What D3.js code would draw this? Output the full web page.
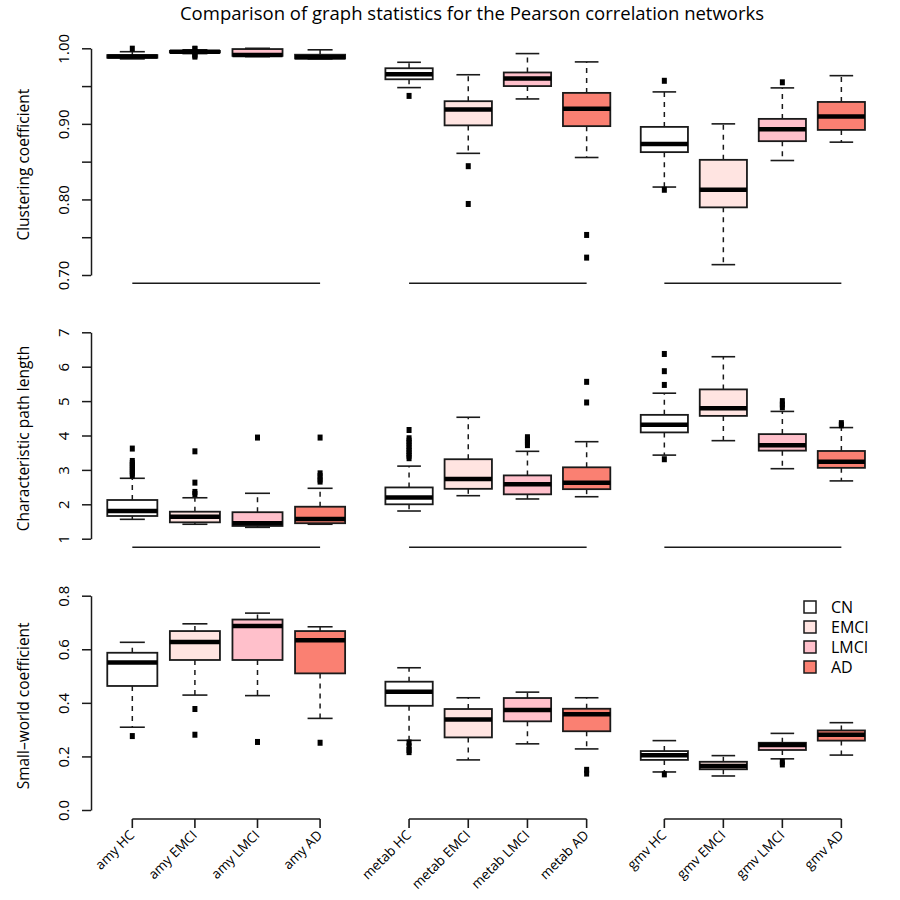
<!DOCTYPE html>
<html>
<head>
<meta charset="utf-8">
<script src="https://cdn.jsdelivr.net/npm/d3@7"></script>
<style>
body { margin: 0; background: #fff; }
text { font-family: "Open Sans", sans-serif; fill: #000; }
</style>
</head>
<body>
<svg id="chart" width="900" height="900"></svg>
<script>
var groups = ["amy", "metab", "gmv"]
var classes = ["HC", "EMCI", "LMCI", "AD"]
var legendNames = ["CN", "EMCI", "LMCI", "AD"]
var fills = ["#ffffff", "#ffe4e1", "#ffc0cb", "#fa8072"]

// each box: [lower whisker, q1, median, q3, upper whisker]
var clustering = [
  [0.986, 0.9875, 0.989, 0.991, 0.9955], [0.993, 0.9945, 0.9955, 0.9965, 0.998],
  [0.989, 0.990, 0.991, 0.999, 1.000], [0.986, 0.9865, 0.988, 0.9915, 0.998],
  [0.948, 0.959, 0.9657, 0.9736, 0.9815], [0.861, 0.898, 0.919, 0.930, 0.965],
  [0.933, 0.950, 0.960, 0.968, 0.993], [0.8555, 0.897, 0.920, 0.941, 0.982],
  [0.8164, 0.8626, 0.8732, 0.896, 0.9423], [0.7137, 0.7895, 0.8128, 0.8524, 0.900],
  [0.8515, 0.8771, 0.893, 0.9066, 0.9476], [0.8758, 0.892, 0.9097, 0.929, 0.9638]
]
var clusteringOut = [
  [0.9995], [0.9995, 0.999, 0.992, 0.9905, 0.989], [], [],
  [0.937], [0.844, 0.794], [], [0.753, 0.723],
  [0.957, 0.8128], [], [0.955], []
]

var pathLength = [
  [1.563, 1.66, 1.805, 2.125, 2.756], [1.42, 1.476, 1.64, 1.785, 2.19],
  [1.33, 1.37, 1.45, 1.77, 2.32], [1.42, 1.45, 1.57, 1.93, 2.465],
  [1.805, 2.0, 2.2, 2.49, 3.11], [2.25, 2.45, 2.735, 3.31, 4.53],
  [2.155, 2.29, 2.58, 2.84, 3.54], [2.22, 2.44, 2.63, 3.075, 3.82],
  [3.43, 4.09, 4.31, 4.6, 5.23], [3.85, 4.57, 4.79, 5.34, 6.29],
  [3.035, 3.56, 3.72, 4.04, 4.7], [2.68, 3.06, 3.24, 3.55, 4.23]
]
var pathLengthOut = [
  [3.62, 3.26, 3.2, 3.14, 3.08, 3.02, 2.96, 2.9, 2.84], [3.54, 2.63, 2.36, 2.3], [3.94], [3.94, 2.9, 2.82, 2.72, 2.66],
  [4.16, 3.92, 3.85, 3.78, 3.7, 3.62, 3.55, 3.48, 3.41, 3.34], [], [3.95, 3.88, 3.8, 3.72], [5.56, 4.96],
  [6.37, 5.87, 5.47, 3.31], [], [5.0, 4.9, 4.82], [4.36, 4.3]
]

var smallWorld = [
  [0.309, 0.463, 0.551, 0.587, 0.626], [0.429, 0.56, 0.627, 0.668, 0.695],
  [0.427, 0.56, 0.687, 0.711, 0.735], [0.342, 0.51, 0.634, 0.668, 0.684],
  [0.26, 0.389, 0.441, 0.479, 0.531], [0.187, 0.271, 0.338, 0.377, 0.419],
  [0.247, 0.331, 0.373, 0.418, 0.44], [0.228, 0.294, 0.357, 0.378, 0.419],
  [0.142, 0.187, 0.204, 0.22, 0.259], [0.127, 0.152, 0.164, 0.18, 0.203],
  [0.191, 0.224, 0.243, 0.251, 0.286], [0.205, 0.259, 0.281, 0.297, 0.326]
]
var smallWorldOut = [
  [0.276], [0.377, 0.281], [0.254], [0.251],
  [0.252, 0.238, 0.224, 0.216], [], [], [0.15, 0.136],
  [0.133], [], [0.18, 0.17], []
]

var clusterTicks = [0.70, 0.75, 0.80, 0.85, 0.90, 0.95, 1.00]
var pathTicks = [1, 2, 3, 4, 5, 6, 7]
var smallTicks = [0.0, 0.2, 0.4, 0.6, 0.8]

var rows = [
  {title: "Clustering coefficient", stats: clustering, out: clusteringOut, dom: [0.70, 1.00],
   ticks: clusterTicks, fmt: function(d){ return Math.round(d * 100) % 10 == 0 ? d3.format(".2f")(d) : "" },
   top: 48.3, bottom: 275, lineY: 283.3},
  {title: "Characteristic path length", stats: pathLength, out: pathLengthOut, dom: [1, 7],
   ticks: pathTicks, fmt: d3.format("d"), top: 332.3, bottom: 538.7, lineY: 547.3},
  {title: "Small\u2013world coefficient", stats: smallWorld, out: smallWorldOut, dom: [0, 0.8],
   ticks: smallTicks, fmt: d3.format(".1f"), top: 595.7, bottom: 810, lineY: 819}
]
var cols = [[91, 361.4], [370, 625.7], [625.4, 880.3]]

var svg = d3.select("#chart")
var ink = "#1a1a1a"

svg.append("text")
  .attr("x", 472).attr("y", 20)
  .attr("text-anchor", "middle")
  .style("font-size", "18.5px")
  .text("Comparison of graph statistics for the Pearson correlation networks")

rows.forEach(function(row, r) {
  var y = d3.scaleLinear().domain(row.dom).range([row.bottom, row.top])

  // y axis
  var ax = svg.append("g").attr("transform", "translate(91,0)")
    .call(d3.axisLeft(y).tickValues(row.ticks).tickSize(9).tickSizeOuter(0).tickFormat(row.fmt))
  ax.select(".domain").attr("stroke", ink).attr("stroke-width", 1.5)
  ax.selectAll(".tick line").attr("stroke", ink).attr("stroke-width", 1.5)
  ax.selectAll(".tick text")
    .attr("x", 0).attr("dy", null)
    .attr("transform", "translate(-22,0) rotate(-90)")
    .attr("text-anchor", "middle")
    .style("font-size", "15px").style("font-family", "\"Open Sans\", sans-serif")

  svg.append("text")
    .attr("transform", "translate(29," + ((row.top + row.bottom) / 2 + 3) + ") rotate(-90)")
    .attr("text-anchor", "middle")
    .style("font-size", "15.5px")
    .text(row.title)

  groups.forEach(function(g, c) {
    var x = d3.scaleLinear().domain([0.34, 4.66]).range(cols[c])
    var half = x(1.4) - x(1)
    var staple = x(1.2) - x(1)
    var pg = svg.append("g")

    // axis line under each group
    pg.append("line")
      .attr("x1", x(1)).attr("x2", x(4))
      .attr("y1", row.lineY).attr("y2", row.lineY)
      .attr("stroke", ink).attr("stroke-width", 1.6)

    if (r == 2) {
      classes.forEach(function(k, i) {
        pg.append("line")
          .attr("x1", x(i + 1)).attr("x2", x(i + 1))
          .attr("y1", row.lineY).attr("y2", row.lineY + 9)
          .attr("stroke", ink).attr("stroke-width", 1.6)
        pg.append("text")
          .attr("transform", "translate(" + (x(i + 1) + 3) + "," + (row.lineY + 17) + ") rotate(-45)")
          .attr("text-anchor", "end")
          .style("font-size", "13.5px")
          .text(g + " " + k)
      })
    }

    for (var i = 0; i < 4; i++) {
      var s = row.stats[c * 4 + i]
      var cx = x(i + 1)
      // whiskers
      pg.append("line").attr("x1", cx).attr("x2", cx).attr("y1", y(s[3])).attr("y2", y(s[4]))
        .attr("stroke", ink).attr("stroke-width", 1.5).attr("stroke-dasharray", "5,5")
      pg.append("line").attr("x1", cx).attr("x2", cx).attr("y1", y(s[1])).attr("y2", y(s[0]))
        .attr("stroke", ink).attr("stroke-width", 1.5).attr("stroke-dasharray", "5,5")
      ;[s[0], s[4]].forEach(function(v) {
        pg.append("line").attr("x1", cx - staple).attr("x2", cx + staple).attr("y1", y(v)).attr("y2", y(v))
          .attr("stroke", ink).attr("stroke-width", 1.6)
      })
      // box
      pg.append("rect")
        .attr("x", cx - half).attr("width", 2 * half)
        .attr("y", y(s[3])).attr("height", Math.max(0.5, y(s[1]) - y(s[3])))
        .attr("fill", fills[i]).attr("stroke", ink).attr("stroke-width", 1.8)
      // median
      pg.append("line").attr("x1", cx - half).attr("x2", cx + half).attr("y1", y(s[2])).attr("y2", y(s[2]))
        .attr("stroke", "#000").attr("stroke-width", 4.5)
      // outliers
      pg.selectAll(null).data(row.out[c * 4 + i]).enter().append("rect")
        .attr("x", cx - 2.5).attr("width", 5)
        .attr("y", function(d){ return y(d) - 3 }).attr("height", 6)
        .attr("fill", "#000")
    }
  })
})

// legend
var leg = svg.append("g").attr("transform", "translate(804,607)")
legendNames.forEach(function(n, i) {
  leg.append("rect").attr("x", 0).attr("y", i * 20 - 6).attr("width", 12).attr("height", 12)
    .attr("fill", fills[i]).attr("stroke", ink).attr("stroke-width", 1.5)
  leg.append("text").attr("x", 27).attr("y", i * 20 + 6)
    .style("font-size", "16px").text(n)
})
</script>
</body>
</html>
